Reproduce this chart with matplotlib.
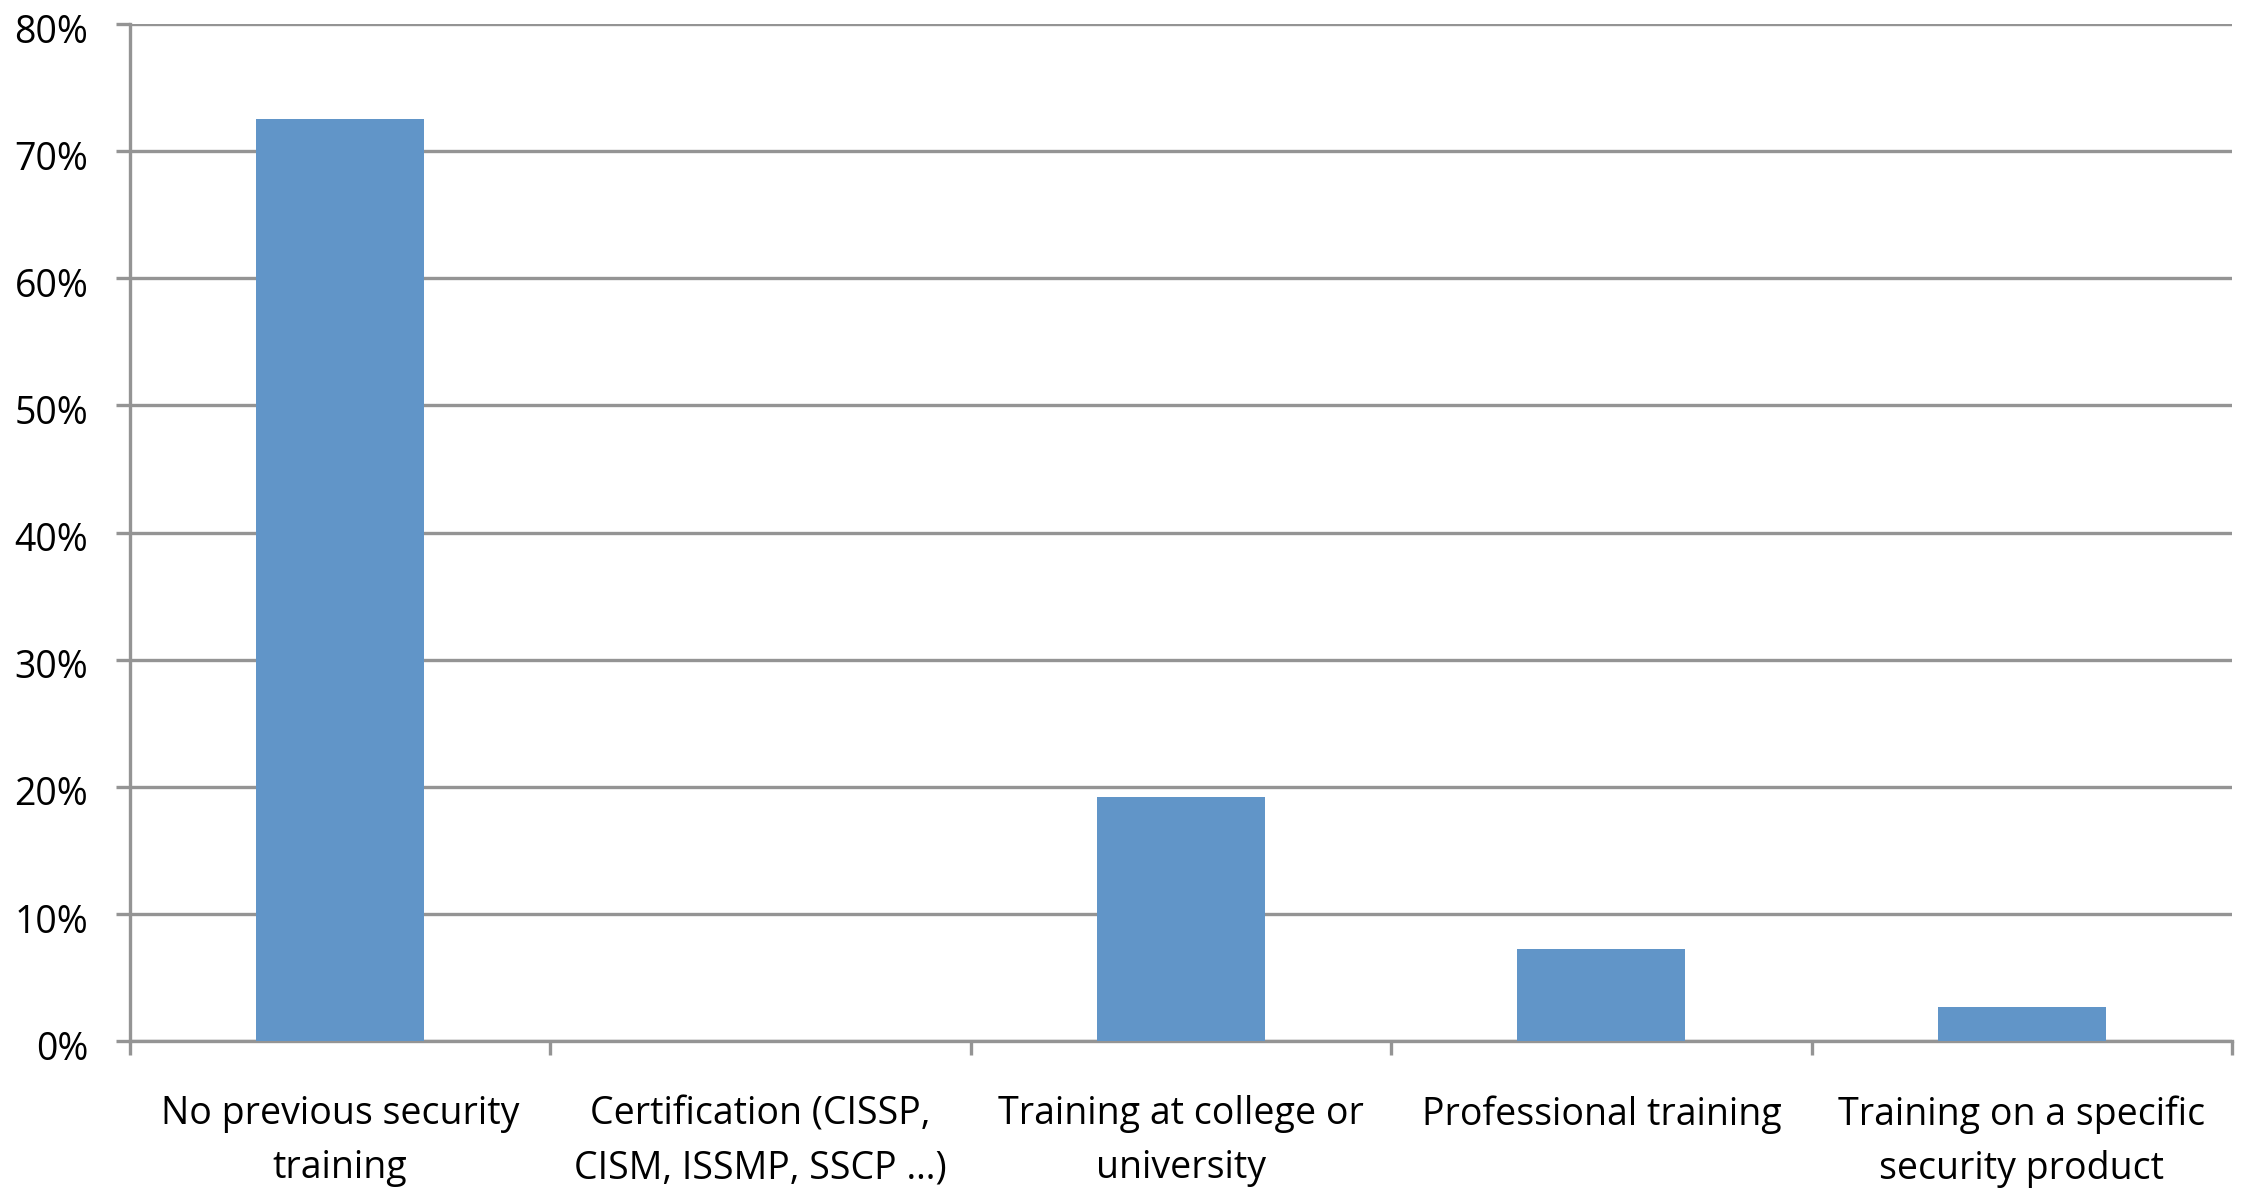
"""Bar chart: previous security training of respondents."""

import matplotlib.pyplot as plt
import matplotlib.transforms as mtransforms
from matplotlib.ticker import FuncFormatter

CATEGORIES = [
    "No previous security\ntraining",
    "Certification (CISSP,\nCISM, ISSMP, SSCP …)",
    "Training at college or\nuniversity",
    "Professional training",
    "Training on a specific\nsecurity product",
]
SHARES = [0.725, 0.0, 0.192, 0.072, 0.027]
Y_TICKS = [0.0, 0.1, 0.2, 0.3, 0.4, 0.5, 0.6, 0.7, 0.8]

BAR_COLOR = "#6195c8"
GRID_COLOR = "#949494"
DPI = 100


def main() -> None:
    plt.rcParams["font.family"] = ["Open Sans", "DejaVu Sans"]
    fig = plt.figure(figsize=(2241 / DPI, 1189 / DPI), dpi=DPI)
    ax = fig.add_axes([130 / 2241, 148 / 1189, (2232 - 130) / 2241, (1041 - 24) / 1189])

    centers = [i + 0.5 for i in range(len(CATEGORIES))]
    ax.bar(centers, SHARES, width=0.4, color=BAR_COLOR, zorder=3)

    ax.set_xlim(0, len(CATEGORIES))
    ax.set_ylim(0, 0.8)
    ax.set_yticks(Y_TICKS)
    ax.yaxis.set_major_formatter(FuncFormatter(lambda v, _: f"{v * 100:.0f}%"))

    ax.set_xticks(range(len(CATEGORIES) + 1))
    ax.set_xticklabels([])
    ax.set_xticks(centers, minor=True)
    ax.set_xticklabels(CATEGORIES, minor=True, fontsize=27, linespacing=1.55)

    ax.grid(True, axis="y", color=GRID_COLOR, linewidth=2.4, zorder=0)
    ax.spines[["top", "right"]].set_visible(False)
    for side in ("left", "bottom"):
        ax.spines[side].set_color(GRID_COLOR)
        ax.spines[side].set_linewidth(2.4)

    ax.tick_params(axis="y", which="major", length=10, width=2.4, color=GRID_COLOR,
                   pad=20, labelsize=27)
    ax.tick_params(axis="x", which="major", length=10, width=2.4, color=GRID_COLOR)
    ax.tick_params(axis="x", which="minor", length=0, pad=39)

    # nudge the percent labels down a little
    shift = mtransforms.ScaledTranslation(0, -3 / 72, fig.dpi_scale_trans)
    for label in ax.get_yticklabels():
        label.set_transform(label.get_transform() + shift)

    fig.savefig("out.png", dpi=DPI)
    plt.close(fig)


if __name__ == "__main__":
    main()
